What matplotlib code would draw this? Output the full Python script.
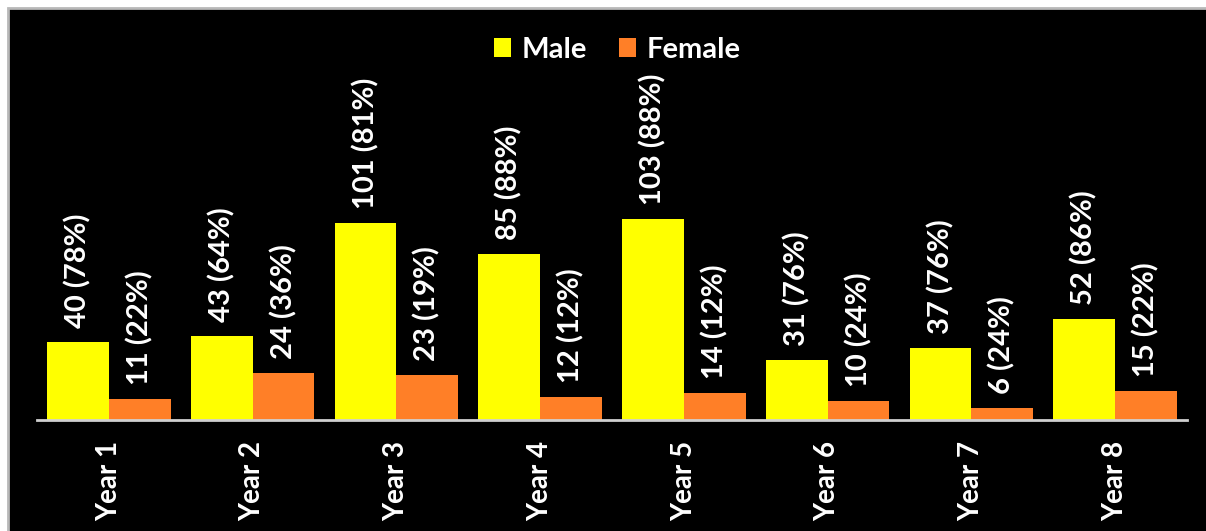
import numpy as np
import matplotlib
matplotlib.use("Agg")
from matplotlib import pyplot as plt
from matplotlib.patches import Rectangle

years = ["Year 1", "Year 2", "Year 3", "Year 4", "Year 5", "Year 6", "Year 7", "Year 8"]
male = [40, 43, 101, 85, 103, 31, 37, 52]
female = [11, 24, 23, 12, 14, 10, 6, 15]
male_pct = [78, 64, 81, 88, 88, 76, 76, 86]
female_pct = [22, 36, 19, 12, 12, 24, 24, 22]

plt.rcParams['font.family'] = ['Lato', 'DejaVu Sans']

W, H = 1206, 531
fig = plt.figure(figsize=(W / 100, H / 100), dpi=100, facecolor='white')

# black panel with thin grey frame (cut off at right and bottom)
fig.patches.append(Rectangle((8 / W, -0.01), 1.0, 1 - 8 / H + 0.01,
                             transform=fig.transFigure, facecolor='black',
                             edgecolor='#b8b8b8', linewidth=2, zorder=-1))

ax = fig.add_axes([37 / W, 1 - 420 / H, 1150 / W, 390 / H])
ax.set_facecolor('none')
ax.set_zorder(1)

x = np.arange(len(years))
bw = 0.43
b1 = ax.bar(x - bw / 2, male, bw, color='#ffff00', label='Male')
b2 = ax.bar(x + bw / 2, female, bw, color='#ff7f27', label='Female')

ax.set_xlim(-0.5, len(years) - 0.5)
ax.set_ylim(0, 200)

for xi, v, p in zip(x, male, male_pct):
    ax.annotate(f"{v} ({p}%)", (xi - bw / 2, v), xytext=(0, 10), textcoords='offset points',
                rotation=90, ha='center', va='bottom', color='white', fontsize=21,
                fontweight='bold')
for xi, v, p in zip(x, female, female_pct):
    ax.annotate(f"{v} ({p}%)", (xi + bw / 2, v), xytext=(0, 10), textcoords='offset points',
                rotation=90, ha='center', va='bottom', color='white', fontsize=21,
                fontweight='bold')

ax.set_xticks(x)
ax.set_xticklabels(years, rotation=90, color='white', fontsize=20, fontweight='bold')
ax.tick_params(axis='x', length=0, pad=15)
ax.set_yticks([])
for s in ['top', 'right', 'left']:
    ax.spines[s].set_visible(False)
ax.spines['bottom'].set_color('#d0d0d0')
ax.spines['bottom'].set_linewidth(2)

leg = fig.legend(loc='center', bbox_to_anchor=(617 / W, 1 - 50 / H), ncol=2, frameon=False,
                 handlelength=0.6, handleheight=0.6, handletextpad=0.35,
                 columnspacing=1.1, labelcolor='white', prop={'size': 21, 'weight': 'bold'})

fig.savefig('out.png', dpi=100, facecolor='white')
